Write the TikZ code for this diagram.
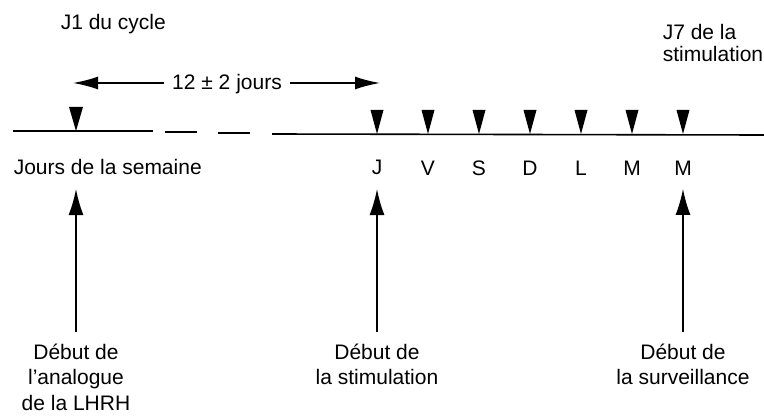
\documentclass[tikz,border=0pt]{standalone}
\usepackage{fontspec}
\setmainfont{Liberation Sans}
\usetikzlibrary{arrows.meta,positioning}

\begin{document}
\begin{tikzpicture}[x=1pt,y=-1pt,>={Latex[length=25pt,width=13pt]},line width=1.6pt,node distance=51pt,
    txt/.style={inner sep=0pt,font=\fontsize{21}{25.5}\selectfont},
    day/.style={txt,anchor=base},
    tri/.style={fill=black},
    up arrow/.style={->,>={Latex[length=26pt,width=15pt]},shorten <=11pt,shorten >=13pt}]

            \useasboundingbox (0,0) rectangle (764,420);

            \node[txt,anchor=base west] (cyc) at (60,30){J1 du cycle};
            \node[txt,anchor=north west,align=left,font=\fontsize{21}{22.5}\selectfont] (j7) at (662,23){J7 de la\\stimulation};

            \node[txt,anchor=base] (dur) [inner xsep=7pt] at (227,90){12 ± 2 jours};
            \coordinate (al) at (73,83);
            \coordinate (ar) at (380,83);

            \node[txt,anchor=base west] (sem) at (13,174){Jours de la semaine};
            \node[day] (1) at (377,175){J};
            \node[day] (2) [right of = 1]{V};
            \node[day] (3) [right of = 2]{S};
            \node[day] (4) [right of = 3]{D};
            \node[day] (5) [right of = 4]{L};
            \node[day] (6) [right of = 5]{M};
            \node[day] (7) [right of = 6]{M};

            \node[txt,align=center,anchor=north] (a) at (76,343){Début de\\l'analogue\\de la LHRH};
            \node[txt,align=center,anchor=north] (b) at (1 |- a.north){Début de\\la stimulation};
            \node[txt,align=center,anchor=north] (c) at (7 |- a.north){Début de\\la surveillance};

            % la ligne du temps
            \coordinate (l0) at (13,131);
            \coordinate (l1) at (153,131);
            \coordinate (d0) at (165,132);
            \coordinate (d1) at (197,132);
            \coordinate (e0) at (218,133);
            \coordinate (e1) at (250,133);
            \coordinate (r0) at (272,134);
            \coordinate (r1) at (764,135);

            \path
                (l0) edge (l1)
                (d0) edge (d1)
                (e0) edge (e1)
                (r0) edge (r1)
            ;

            \fill[tri] (a |- l1) -- ++(-7,-24) -- ++(14,0) -- cycle;
            \foreach \n in {1,...,7}
                \fill[tri] (\n |- r0) -- ++(-6.5,-24) -- ++(13,0) -- cycle;

            \path[->]
                (dur.west |- al) edge (al)
                (dur.east |- ar) edge (ar)
            ;

            \path[up arrow]
                (a.north) edge (a.north |- 1.south)
                (b.north) edge (1.south)
                (c.north) edge (7.south)
            ;
\end{tikzpicture}
\end{document}
